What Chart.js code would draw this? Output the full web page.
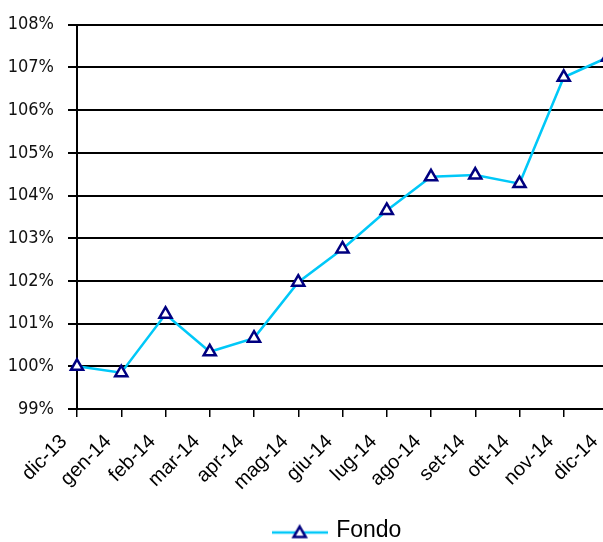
<!DOCTYPE html>
<html>
<head>
<meta charset="utf-8">
<script src="https://cdn.jsdelivr.net/npm/chart.js@4.4.1/dist/chart.umd.min.js"></script>
<style>
  html, body { margin: 0; padding: 0; background: #fff; overflow: hidden; }
  #wrap { width: 672px; height: 552px; }
</style>
</head>
<body>
<div id="wrap"><canvas id="fondoChart" width="672" height="552"></canvas></div>
<script>
// Chart data
const months = ['dic-13', 'gen-14', 'feb-14', 'mar-14', 'apr-14', 'mag-14', 'giu-14',
                'lug-14', 'ago-14', 'set-14', 'ott-14', 'nov-14', 'dic-14'];
const fondoValues = [100.0, 99.85, 101.22, 100.34, 100.66, 101.97, 102.75,
                     103.65, 104.44, 104.48, 104.28, 106.77, 107.24];
const yMin = 99;
const yMax = 108;
const yStep = 1;

const lineColor = '#00C8F8';
const markerColor = '#000080';

// pick a narrow font for the y labels if it is there
function hasFont(name) {
    const c = document.createElement('canvas').getContext('2d');
    c.font = '20px monospace';
    const base = c.measureText('108%abcxyz').width;
    c.font = '20px "' + name + '", monospace';
    return c.measureText('108%abcxyz').width !== base;
}
const yFont = hasFont('Liberation Sans Narrow')
    ? { family: '"Liberation Sans Narrow"', size: 20 }
    : { family: '"DejaVu Sans Condensed", "DejaVu Sans"', size: 18 };

// legend symbol: line with a triangle marker
function legendSymbol() {
    const c = document.createElement('canvas');
    c.width = 56;
    c.height = 22;
    const g = c.getContext('2d');
    g.strokeStyle = lineColor;
    g.lineWidth = 2.5;
    g.beginPath();
    g.moveTo(0, 13);
    g.lineTo(56, 13);
    g.stroke();
    const r = 7, cx = 28, cy = 14;
    g.beginPath();
    g.moveTo(cx, cy - r);
    g.lineTo(cx + r * Math.cos(Math.PI / 6), cy + r / 2);
    g.lineTo(cx - r * Math.cos(Math.PI / 6), cy + r / 2);
    g.closePath();
    g.fillStyle = '#fff';
    g.fill();
    g.strokeStyle = markerColor;
    g.lineWidth = 2.5;
    g.stroke();
    return c;
}
const symbol = legendSymbol();

// the legend is centred under the whole (wider) chart, not the padded area
const legendShift = {
    id: 'legendShift',
    afterLayout(chart) {
        if (chart.legend) {
            chart.legend.left += 34;
            chart.legend.right += 34;
        }
    },
};

const ctx = document.getElementById('fondoChart').getContext('2d');
new Chart(ctx, {
    type: 'line',
    data: {
        labels: months,
        datasets: [
            {
                label: 'Fondo',
                data: fondoValues,
                borderColor: lineColor,
                borderWidth: 2.5,
                tension: 0,
                pointStyle: 'triangle',
                pointRadius: 7,
                pointBorderWidth: 2.5,
                pointBorderColor: markerColor,
                pointBackgroundColor: '#fff',
                clip: false,
            },
        ],
    },
    options: {
        responsive: false,
        animation: false,
        layout: {
            padding: { left: 0, top: 23, right: 64, bottom: 0 },
        },
        plugins: {
            legend: {
                position: 'bottom',
                labels: {
                    usePointStyle: true,
                    pointStyleWidth: 50,
                    padding: 6,
                    color: '#000',
                    font: { family: '"Liberation Sans", Arial, sans-serif', size: 23 },
                    generateLabels: chart => chart.data.datasets.map((ds, i) => ({
                        text: ds.label,
                        pointStyle: symbol,
                        datasetIndex: i,
                        fontColor: '#000',
                        lineWidth: 0,
                    })),
                },
            },
            tooltip: { enabled: false },
        },
        scales: {
            x: {
                offset: false,
                afterFit: scale => { scale.height = 104; },
                grid: {
                    drawOnChartArea: false,
                    drawTicks: true,
                    tickLength: 8,
                    color: '#000',
                    lineWidth: 1.5,
                },
                border: { color: '#000', width: 2 },
                ticks: {
                    autoSkip: false,
                    minRotation: 45,
                    maxRotation: 45,
                    padding: 13,
                    labelOffset: -13,
                    color: '#000',
                    font: { family: '"Liberation Sans", Arial, sans-serif', size: 20 },
                },
            },
            y: {
                min: yMin,
                max: yMax,
                afterFit: scale => { scale.width = 77; },
                grid: {
                    color: '#000',
                    lineWidth: 2,
                    tickLength: 9,
                },
                border: { color: '#000', width: 2 },
                ticks: {
                    stepSize: yStep,
                    padding: 14,
                    color: '#111',
                    font: yFont,
                    callback: v => v + '%',
                },
            },
        },
    },
    plugins: [legendShift],
});
</script>
</body>
</html>
